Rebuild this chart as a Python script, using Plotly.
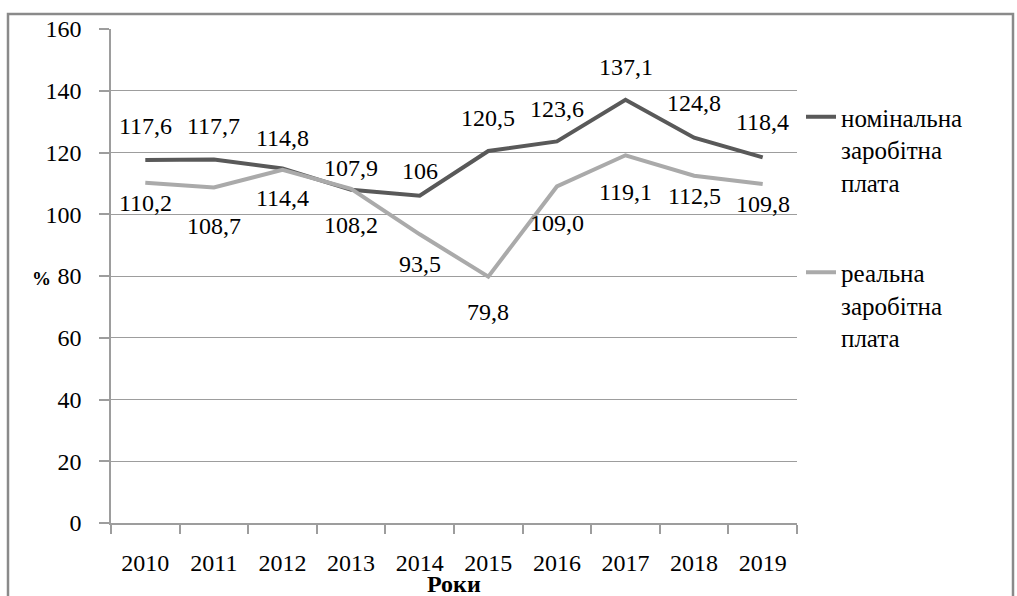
import plotly.graph_objects as go

# ---- data ----
years = ["2010", "2011", "2012", "2013", "2014", "2015", "2016", "2017", "2018", "2019"]
nominal = [117.6, 117.7, 114.8, 107.9, 106.0, 120.5, 123.6, 137.1, 124.8, 118.4]
real = [110.2, 108.7, 114.4, 108.2, 93.5, 79.8, 109.0, 119.1, 112.5, 109.8]
nominal_name = "номінальна<br>заробітна<br>плата"
real_name = "реальна<br>заробітна<br>плата"
x_title = "Роки"
y_title = "%"

# ---- label placement (pixel offsets from points, styling only) ----
nom_dy = [34, 34, 31, 22, 25, 33, 32, 33, 35, 35]
real_dy = [20, 39, 28, 36, 30, 35, 37, 37, 20, 20]

FONT = "Liberation Serif, Times New Roman, DejaVu Serif, serif"
FS = 24
LEG_FS = 25
NOM_C = "#595959"
REAL_C = "#aaaaaa"
GRID_C = "#9d9d9d"

fig = go.Figure()
fig.add_trace(go.Scatter(x=years, y=nominal, mode="lines", name=nominal_name,
                         line=dict(color=NOM_C, width=4), legendgroup="n",
                         hoverinfo="skip"))
fig.add_trace(go.Scatter(x=years, y=real, mode="lines", name=real_name,
                         line=dict(color=REAL_C, width=4), legendgroup="r",
                         hoverinfo="skip"))


def fmt_general(v):
    return f"{v:g}".replace(".", ",")


def fmt_one(v):
    return f"{v:.1f}".replace(".", ",")


annotations = []
for i, (v, dy) in enumerate(zip(nominal, nom_dy)):
    annotations.append(dict(x=i, y=v, xref="x", yref="y", text=fmt_general(v),
                            showarrow=False, yshift=dy, yanchor="middle",
                            font=dict(family=FONT, size=FS, color="black")))
for i, (v, dy) in enumerate(zip(real, real_dy)):
    annotations.append(dict(x=i, y=v, xref="x", yref="y", text=fmt_one(v),
                            showarrow=False, yshift=-dy, yanchor="middle",
                            font=dict(family=FONT, size=FS, color="black")))

# axis titles
annotations.append(dict(x=0.5, y=0, xref="paper", yref="paper", text=f"<b>{x_title}</b>",
                        showarrow=False, yshift=-61, yanchor="middle",
                        font=dict(family=FONT, size=24, color="black")))
annotations.append(dict(x=0, y=80, xref="paper", yref="y", text=f"<b>{y_title}</b>",
                        showarrow=False, xshift=-81, yshift=-2, yanchor="middle",
                        font=dict(family=FONT, size=19, color="black")))

# outer frame of the chart area (in pixels converted to paper units)
L, R, T, B = 111, 797, 29, 523
pw, ph = R - L, B - T


def px_x(p):
    return (p - L) / pw


def px_y(p):
    return (B - p) / ph


shapes = [dict(type="rect", xref="paper", yref="paper",
               x0=px_x(8), x1=px_x(1013), y0=px_y(610), y1=px_y(14),
               line=dict(color="#8a8a8a", width=2.5), fillcolor="rgba(0,0,0,0)",
               layer="below")]

fig.update_layout(
    width=1017, height=596, autosize=False,
    margin=dict(l=L, r=1017 - R, t=T, b=596 - B, pad=0),
    paper_bgcolor="white", plot_bgcolor="white",
    font=dict(family=FONT, size=FS, color="black"),
    showlegend=True,
    legend=dict(x=px_x(801), xanchor="left", y=px_y(94), yanchor="top",
                valign="top", tracegroupgap=55, itemwidth=30,
                bgcolor="rgba(0,0,0,0)", borderwidth=0,
                font=dict(family=FONT, size=LEG_FS, color="black")),
    annotations=annotations,
    shapes=shapes,
    xaxis=dict(type="category", range=[-0.5, 9.5], showgrid=False,
               showline=True, linecolor=GRID_C, linewidth=1.5,
               ticks="outside", tickson="boundaries", ticklen=9,
               tickcolor=GRID_C, tickwidth=1.5, ticklabelstandoff=17,
               tickfont=dict(family=FONT, size=FS, color="black"),
               zeroline=False, fixedrange=True),
    yaxis=dict(range=[0, 160], dtick=20, tick0=0, showgrid=True,
               gridcolor=GRID_C, gridwidth=1.2,
               showline=True, linecolor=GRID_C, linewidth=1.5,
               ticks="outside", ticklen=10, tickcolor=GRID_C, tickwidth=1.5,
               ticklabelstandoff=13,
               tickfont=dict(family=FONT, size=FS, color="black"),
               zeroline=False, fixedrange=True),
)

fig.write_html("out.html")
